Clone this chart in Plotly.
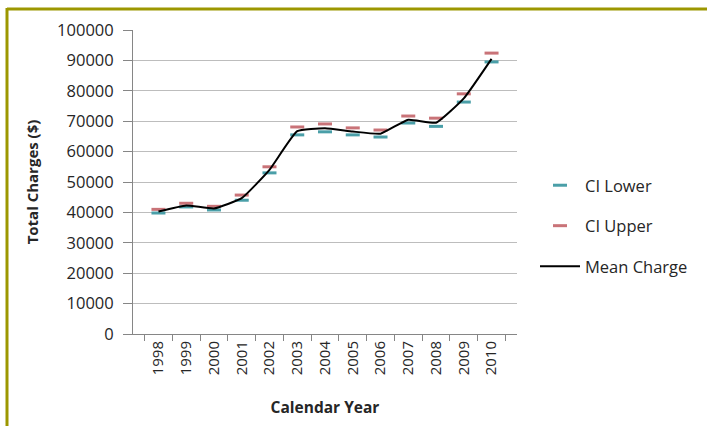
import plotly.graph_objects as go

years = ["1998", "1999", "2000", "2001", "2002", "2003", "2004", "2005", "2006", "2007", "2008", "2009", "2010"]
ci_lower = [39800, 41800, 40800, 44000, 53000, 65500, 66500, 65500, 64800, 69400, 68300, 76300, 89500]
ci_upper = [41000, 43000, 42000, 45700, 55000, 68100, 69100, 67800, 67100, 71700, 71000, 79000, 92400]
mean_charge = [40300, 42300, 41300, 44700, 54000, 66700, 67700, 66600, 65900, 70500, 69500, 77500, 90500]
y_ticks = list(range(0, 100001, 10000))

FONT = "Open Sans, Liberation Sans, sans-serif"

fig = go.Figure()
fig.add_trace(go.Scatter(
    x=years, y=ci_lower, name="CI Lower", mode="markers", legendgroup="a",
    marker=dict(symbol="line-ew-open", size=10, color="#4a9fa8", line=dict(width=3)),
))
fig.add_trace(go.Scatter(
    x=years, y=ci_upper, name="CI Upper", mode="markers", legendgroup="b",
    marker=dict(symbol="line-ew-open", size=10, color="#c97378", line=dict(width=3)),
))
fig.add_trace(go.Scatter(
    x=years, y=mean_charge, name="Mean Charge", mode="lines", legendgroup="c",
    line=dict(color="black", width=2, shape="spline", smoothing=0.4),
))

L, R, T, B = 133, 190, 30, 92
W, H = 707, 426
pw, ph = W - L - R, H - T - B

def px(x):
    return (x - L) / pw

def py(y):
    return (H - B - y) / ph

fig.update_layout(
    width=W, height=H,
    margin=dict(l=L, r=R, t=T, b=B),
    paper_bgcolor="white", plot_bgcolor="white",
    font=dict(family=FONT, size=14, color="#262626"),
    showlegend=True,
    legend=dict(x=px(535), y=py(168), xanchor="left", yanchor="top",
                font=dict(size=16.5, color="#262626"), tracegroupgap=16,
                bgcolor="rgba(0,0,0,0)", itemwidth=40),
    xaxis=dict(
        type="category", tickangle=-90, tickson="boundaries", ticks="outside", ticklen=6,
        tickcolor="#868686", showline=True, linecolor="#868686", linewidth=1,
        showgrid=False, tickfont=dict(size=15, color="#262626"),
        title=dict(text="<b>Calendar Year</b>", font=dict(size=15.5, color="#262626"), standoff=27),
    ),
    yaxis=dict(
        range=[0, 100000], tickvals=y_ticks, ticktext=[str(v) for v in y_ticks],
        ticks="outside", ticklen=9, tickcolor="#868686", showline=True, linecolor="#868686",
        linewidth=1, showgrid=True, gridcolor="#bdbdbd", gridwidth=1, zeroline=False,
        tickfont=dict(size=16.5, color="#262626"), ticklabelstandoff=6,
        title=dict(text="<b>Total Charges ($)</b>", font=dict(size=15, color="#262626"), standoff=14),
    ),
    shapes=[
        dict(type="line", xref="paper", yref="paper", x0=px(7), x1=px(707), y0=py(9), y1=py(9),
             line=dict(color="#9c9700", width=3)),
        dict(type="line", xref="paper", yref="paper", x0=px(7), x1=px(7), y0=py(8), y1=py(426),
             line=dict(color="#9c9700", width=3)),
    ],
)

fig.write_html("out.html", config={"displayModeBar": False},
               post_script="document.body.style.margin='0';document.body.style.overflow='hidden';")
